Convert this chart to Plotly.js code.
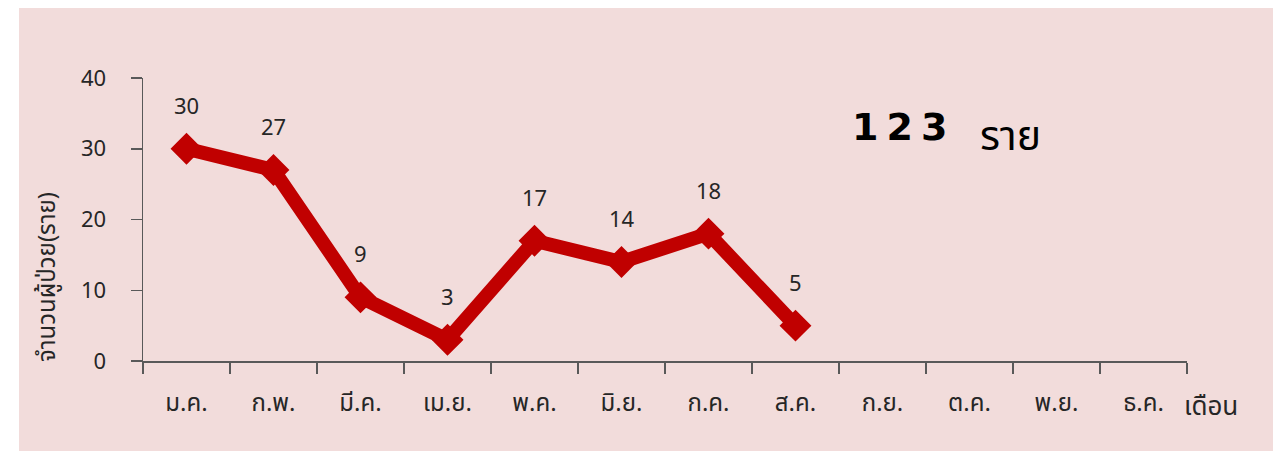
<!DOCTYPE html>
<html>
<head>
<meta charset="utf-8">
<script src="https://cdn.plot.ly/plotly-3.0.1.min.js"></script>
<style>html,body{margin:0;padding:0;background:#fff;}#chart{width:1273px;height:451px;}</style>
</head>
<body>
<div id="chart"></div>
<script>
const months = ["ม.ค.","ก.พ.","มี.ค.","เม.ย.","พ.ค.","มิ.ย.","ก.ค.","ส.ค.","ก.ย.","ต.ค.","พ.ย.","ธ.ค."];
const patients = [30, 27, 9, 3, 17, 14, 18, 5];
const yTicks = [0, 10, 20, 30, 40];
const totalText = "123";
const unitText = "ราย";
const yTitle = "จำนวนผู้ป่วย(ราย)";
const xTitle = "เดือน";

const FONT = "Noto Sans, Noto Sans Thai, DejaVu Sans, sans-serif";
const W = 1273, H = 451;
const L = 143, R = 86, T = 78, B = 90;
const pw = W - L - R, ph = H - T - B;
const px = v => (v - L) / pw;
const py = v => (H - B - v) / ph;

const usedMonths = months.slice(0, patients.length);

const trace = {
  x: usedMonths,
  y: patients,
  type: 'scatter',
  mode: 'lines+markers',
  line: {color: '#C00000', width: 14},
  marker: {symbol: 'diamond', size: 18, color: '#C00000', line: {color: '#C00000', width: 6}},
  cliponaxis: false,
  hoverinfo: 'skip'
};

const annotations = usedMonths.map((m, i) => ({
  x: m, y: patients[i], xref: 'x', yref: 'y',
  xanchor: 'center', yanchor: 'middle',
  text: String(patients[i]), showarrow: false,
  yshift: 44, font: {family: FONT, size: 22, color: '#262626'}
}));

annotations.push({
  xref: 'paper', yref: 'paper', x: px(850), y: py(127),
  xanchor: 'left', yanchor: 'middle',
  text: '<span style="letter-spacing:8px">' + totalText + '</span>',
  showarrow: false, font: {family: "DejaVu Sans", size: 38, weight: 'bold', color: '#000'}
});
annotations.push({
  xref: 'paper', yref: 'paper', x: px(978), y: py(134),
  xanchor: 'left', yanchor: 'middle',
  text: unitText,
  showarrow: false, font: {family: FONT, size: 41, color: '#000'}
});
annotations.push({
  xref: 'paper', yref: 'paper', x: px(45), y: py(277),
  xanchor: 'center', yanchor: 'middle',
  text: yTitle, textangle: -90, showarrow: false,
  font: {family: FONT, size: 24, color: '#262626'}
});
annotations.push({
  xref: 'paper', yref: 'paper', x: px(1211), y: py(405),
  xanchor: 'center', yanchor: 'middle',
  text: xTitle, showarrow: false,
  font: {family: FONT, size: 26, color: '#262626'}
});

const layout = {
  width: W, height: H,
  margin: {l: L, r: R, t: T, b: B, pad: 0},
  paper_bgcolor: '#ffffff',
  plot_bgcolor: 'rgba(0,0,0,0)',
  showlegend: false,
  font: {family: FONT, color: '#262626'},
  shapes: [{
    type: 'rect', xref: 'paper', yref: 'paper', layer: 'below',
    x0: px(19), x1: px(1273), y0: py(451), y1: py(8),
    fillcolor: '#F2DCDB', line: {width: 0}
  }],
  xaxis: {
    type: 'category',
    categoryorder: 'array', categoryarray: months,
    tickvals: months,
    range: [-0.5, 11.5],
    showline: true, linecolor: '#595959', linewidth: 1.5,
    ticks: 'outside', tickson: 'boundaries', ticklen: 11, tickcolor: '#595959', tickwidth: 1.5,
    showgrid: false, zeroline: false,
    tickfont: {family: FONT, size: 24, color: '#262626'},
    ticklabelstandoff: 20,
    fixedrange: true
  },
  yaxis: {
    range: [0, 40],
    tickvals: yTicks,
    showline: true, linecolor: '#595959', linewidth: 1.5,
    ticks: 'outside', ticklen: 11, tickcolor: '#595959', tickwidth: 1.5,
    showgrid: false, zeroline: false,
    tickfont: {family: FONT, size: 22, color: '#262626'},
    ticklabelstandoff: 20,
    fixedrange: true
  },
  annotations: annotations
};

Plotly.newPlot('chart', [trace], layout, {displayModeBar: false, staticPlot: true});
</script>
</body>
</html>
